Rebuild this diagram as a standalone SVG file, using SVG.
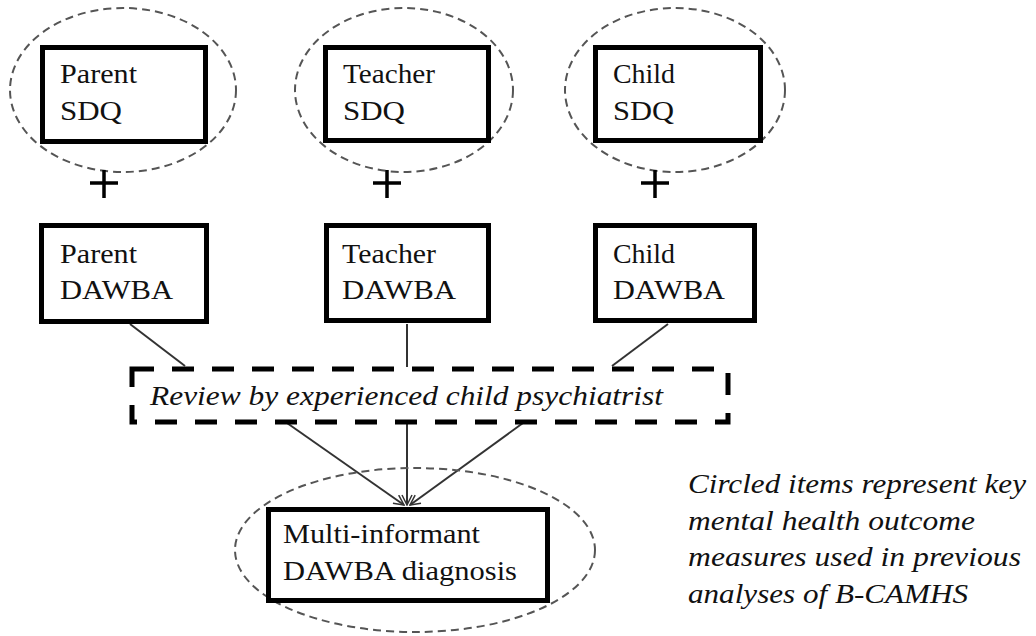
<svg xmlns="http://www.w3.org/2000/svg" width="1036" height="636" viewBox="0 0 1036 636">
  <style>
    .box { fill: #fff; stroke: #000; stroke-width: 5; }
    .ring { fill: none; stroke: #555; stroke-width: 2; stroke-dasharray: 8 5; }
    .label { font-family: "Liberation Serif", "DejaVu Serif", serif; font-size: 28px; fill: #111; }
    .note { font-family: "Liberation Serif", "DejaVu Serif", serif; font-size: 27px; font-style: italic; fill: #111; }
    .link { stroke: #333; stroke-width: 2; fill: none; }
    .plus { stroke: #000; stroke-width: 3.5; }
  </style>
  <defs>
    <marker id="openHead" viewBox="0 0 12 12" refX="11" refY="6" markerWidth="12" markerHeight="12" markerUnits="userSpaceOnUse" orient="auto">
      <path d="M1,1 L11,6 L1,11" fill="none" stroke="#333" stroke-width="1.5"/>
    </marker>
  </defs>

  <rect width="1036" height="636" fill="#fff"/>

  <!-- connectors -->
  <g id="connectors">
    <line class="link" x1="130" y1="324" x2="185" y2="366"/>
    <line class="link" x1="407" y1="324" x2="407" y2="367"/>
    <line class="link" x1="668" y1="324" x2="612" y2="366"/>
    <line class="link" x1="287" y1="423" x2="404" y2="505" marker-end="url(#openHead)"/>
    <line class="link" x1="407" y1="423" x2="407" y2="505" marker-end="url(#openHead)"/>
    <line class="link" x1="523" y1="423" x2="410" y2="505" marker-end="url(#openHead)"/>
  </g>

  <!-- SDQ questionnaires -->
  <g id="parent-sdq">
    <ellipse class="ring" cx="123" cy="90" rx="113" ry="82"/>
    <rect class="box" x="42.5" y="47.5" width="163" height="94"/>
    <text class="label" x="60" y="83" textLength="77" lengthAdjust="spacingAndGlyphs">Parent</text>
    <text class="label" x="60" y="120" textLength="62" lengthAdjust="spacingAndGlyphs">SDQ</text>
  </g>
  <g id="teacher-sdq">
    <ellipse class="ring" cx="404" cy="90" rx="109" ry="82"/>
    <rect class="box" x="325.5" y="47.5" width="163" height="93"/>
    <text class="label" x="343" y="83" textLength="92" lengthAdjust="spacingAndGlyphs">Teacher</text>
    <text class="label" x="343" y="120" textLength="62" lengthAdjust="spacingAndGlyphs">SDQ</text>
  </g>
  <g id="child-sdq">
    <ellipse class="ring" cx="675" cy="90" rx="110" ry="82"/>
    <rect class="box" x="595.5" y="47.5" width="165" height="93"/>
    <text class="label" x="613" y="83" textLength="62" lengthAdjust="spacingAndGlyphs">Child</text>
    <text class="label" x="613" y="120" textLength="61" lengthAdjust="spacingAndGlyphs">SDQ</text>
  </g>

  <!-- plus signs -->
  <g id="plus-signs">
    <path class="plus" d="M90,183 H118 M104,170 V198"/>
    <path class="plus" d="M373,183 H401 M387,170 V198"/>
    <path class="plus" d="M641,183 H669 M655,170 V198"/>
  </g>

  <!-- DAWBA interviews -->
  <g id="parent-dawba">
    <rect class="box" x="41.5" y="225.5" width="165" height="96"/>
    <text class="label" x="60" y="263" textLength="77" lengthAdjust="spacingAndGlyphs">Parent</text>
    <text class="label" x="60" y="299" textLength="113" lengthAdjust="spacingAndGlyphs">DAWBA</text>
  </g>
  <g id="teacher-dawba">
    <rect class="box" x="326.5" y="225.5" width="162" height="95"/>
    <text class="label" x="342" y="263" textLength="94" lengthAdjust="spacingAndGlyphs">Teacher</text>
    <text class="label" x="342" y="299" textLength="114" lengthAdjust="spacingAndGlyphs">DAWBA</text>
  </g>
  <g id="child-dawba">
    <rect class="box" x="595.5" y="225.5" width="159" height="95"/>
    <text class="label" x="613" y="263" textLength="62" lengthAdjust="spacingAndGlyphs">Child</text>
    <text class="label" x="613" y="299" textLength="112" lengthAdjust="spacingAndGlyphs">DAWBA</text>
  </g>

  <!-- clinical review -->
  <g id="review">
    <rect x="132" y="369" width="596" height="53" fill="#fff" stroke="#000" stroke-width="5" stroke-dasharray="22 18"/>
    <text class="note" x="150" y="405" font-size="29" textLength="513" lengthAdjust="spacingAndGlyphs">Review by experienced child psychiatrist</text>
  </g>

  <!-- final diagnosis -->
  <g id="diagnosis">
    <ellipse class="ring" cx="415" cy="550" rx="180" ry="82"/>
    <rect class="box" x="268.5" y="509.5" width="279" height="91"/>
    <text class="label" x="283" y="543" textLength="197" lengthAdjust="spacingAndGlyphs">Multi-informant</text>
    <text class="label" x="283" y="580" textLength="234" lengthAdjust="spacingAndGlyphs">DAWBA diagnosis</text>
  </g>

  <!-- legend note -->
  <g id="legend">
    <text class="note" x="688" y="493" textLength="338" lengthAdjust="spacingAndGlyphs">Circled items represent key</text>
    <text class="note" x="688" y="530" textLength="287" lengthAdjust="spacingAndGlyphs">mental health outcome</text>
    <text class="note" x="688" y="566" textLength="333" lengthAdjust="spacingAndGlyphs">measures used in previous</text>
    <text class="note" x="688" y="603" textLength="280" lengthAdjust="spacingAndGlyphs">analyses of B-CAMHS</text>
  </g>
</svg>
